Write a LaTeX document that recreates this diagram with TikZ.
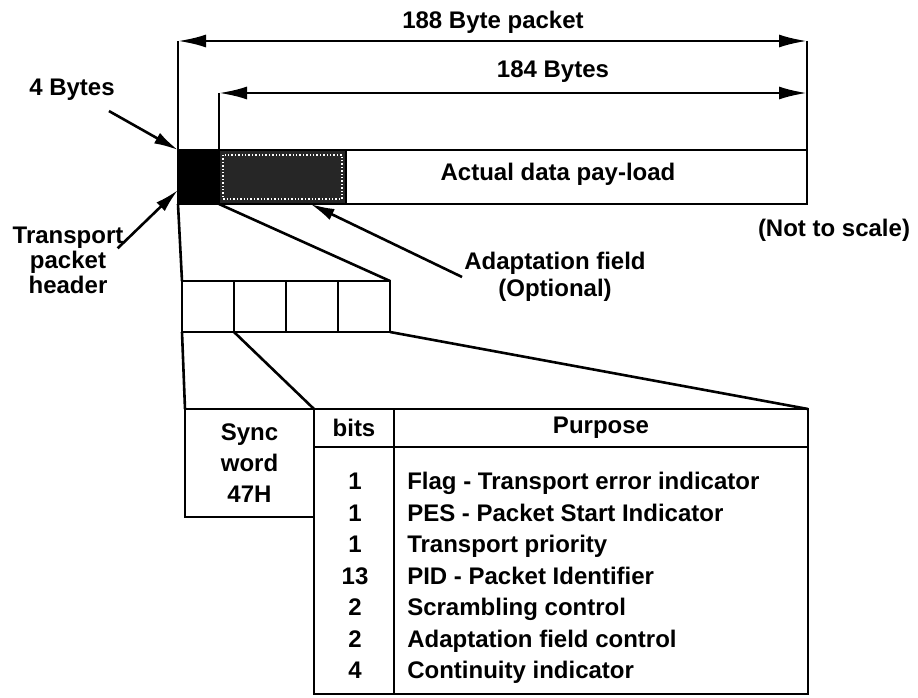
\documentclass[tikz,border=0pt]{standalone}
\usepackage{fontspec}
\setmainfont{Liberation Sans}
\usepackage{tikz}
\usetikzlibrary{arrows.meta, positioning}

\begin{document}
\begin{tikzpicture}[x=1pt, y=-1pt, line width=2.6pt,
  txt/.style={font=\fontsize{24}{25}\selectfont\bfseries, inner sep=1pt, align=center},
  cell/.style={draw, outer sep=0pt, inner sep=0pt, anchor=north west, align=center,
    font=\fontsize{24}{31}\selectfont\bfseries},
  field/.style={cell, minimum width=52pt, minimum height=51pt},
  pointer/.style={-{Latex[length=24pt,width=12pt]}},
  span/.style={{Latex[length=28pt,width=13pt]}-{Latex[length=28pt,width=13pt]}}]
  \useasboundingbox (0,0) rectangle (918,698);

  % the packet
  \node[cell, fill=black, minimum width=41pt, minimum height=54pt] (hdr) at (178,150) {};
  \node[cell, fill=black!85, minimum width=127pt, minimum height=54pt] (adapt) at (219,150) {};
  \node[cell, minimum width=461pt, minimum height=54pt] (payload) at (346,150) {};
  \draw[white, dotted, line width=1.4pt] ([shift={(4pt,-5pt)}]adapt.north west) rectangle ([shift={(-4pt,5pt)}]adapt.south east);
  \node[txt] (paytext) at (558,174) {Actual data pay-load};

  % lengths
  \coordinate (allL) at (178,41);
  \coordinate (allR) at (807,41);
  \coordinate (payL) at (219,93);
  \coordinate (payR) at (807,93);
  \draw (allL) -- (hdr.north west);
  \draw (allR) -- (payload.south east);
  \draw (payL) -- (adapt.north west);
  \draw[span] (allL) -- (allR);
  \draw[span] (payL) -- (payR);
  \node[txt] (alltext) at (493,22) {188 Byte packet};
  \node[txt] (paylen) at (553,72) {184 Bytes};

  % pointers
  \node[txt] (fourb) at (72,90) {4 Bytes};
  \draw[pointer] ([shift={(-8pt,-8pt)}]fourb.south east) -- (hdr.north west);
  \node[txt] (tph) at (68,260) {Transport\\packet\\header};
  \draw[pointer] ([shift={(-8pt,-24pt)}]tph.north east) -- ([yshift=-13pt]hdr.west);
  \node[txt, font=\fontsize{24}{27}\selectfont\bfseries] (adtext) at (555,277) {Adaptation field\\(Optional)};
  \draw[pointer] (adtext.west) -- ([xshift=28pt]adapt.south);
  \node[txt] (scale) at (834,230) {(Not to scale)};

  % header fields
  \foreach \n/\x in {1/182, 2/234, 3/286, 4/338}
    \node[field] (f\n) at (\x,281) {};
  \draw (hdr.south west) -- (f1.north west);
  \draw (hdr.south east) -- (f4.north east);

  % table
  \node[cell, minimum width=129pt, minimum height=108pt] (sync) at (185,409) {Sync\\word\\47H};
  \node[cell, minimum width=80pt, minimum height=38pt] (hbits) at (314,409) {bits};
  \node[cell, minimum width=414pt, minimum height=38pt] (hpurp) at (394,409) {Purpose};
  \node[cell, minimum width=80pt, minimum height=247pt] (bbits) at (314,447) {};
  \node[cell, minimum width=414pt, minimum height=247pt] (bpurp) at (394,447) {};
  \draw (f1.south west) -- (sync.north west);
  \draw (f1.south east) -- (sync.north east);
  \draw (f4.south east) -- (hpurp.north east);

  \foreach \b/\p [count=\i] in {1/{Flag - Transport error indicator},
      1/{PES - Packet Start Indicator}, 1/{Transport priority},
      13/{PID - Packet Identifier}, 2/{Scrambling control},
      2/{Adaptation field control}, 4/{Continuity indicator}} {
    \node[txt, anchor=base] (b\i) at (355,458+31.5*\i) {\b};
    \node[txt, anchor=base west] (p\i) at (405,458+31.5*\i) {\p};
  }
\end{tikzpicture}
\end{document}
